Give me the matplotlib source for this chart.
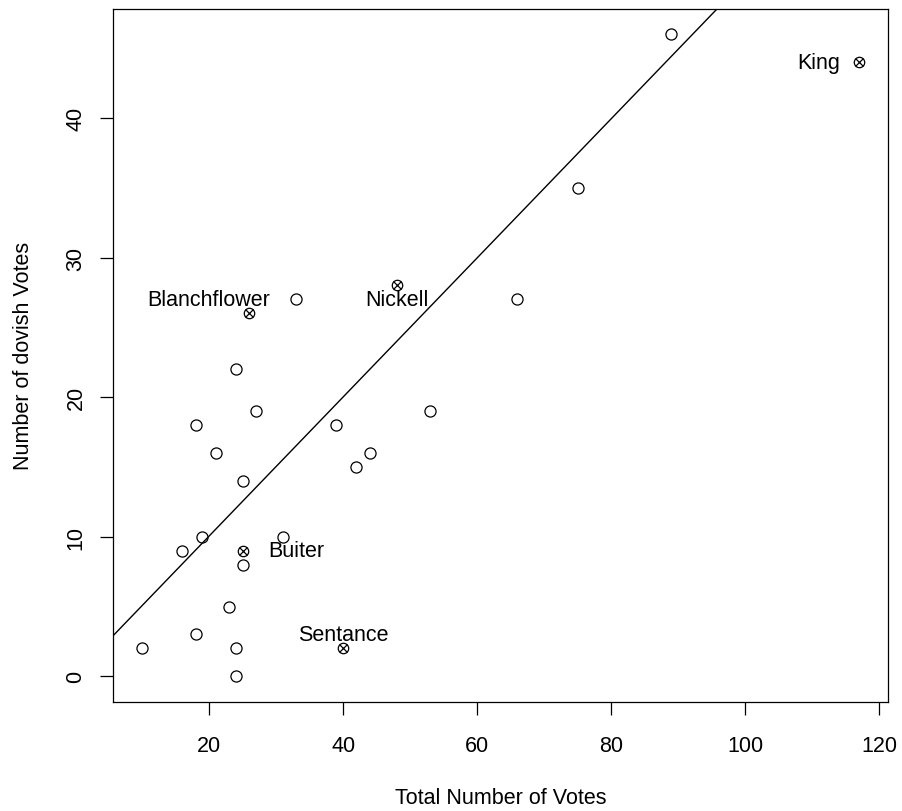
import matplotlib
matplotlib.use("Agg")
import matplotlib.pyplot as plt
import numpy as np

plt.rcParams['font.family'] = ['Liberation Sans', 'DejaVu Sans']

# votes per member: total votes and dovish votes
total_votes = [10, 16, 18, 18, 19, 21, 23, 24, 24, 24, 25, 25, 27, 31, 33,
               39, 42, 44, 53, 66, 75, 89]
dovish_votes = [2, 9, 3, 18, 10, 16, 5, 2, 0, 22, 14, 8, 19, 10, 27,
                18, 15, 16, 19, 27, 35, 46]

# named members (drawn with crossed circles)
names = ['Blanchflower', 'Nickell', 'Buiter', 'Sentance', 'King']
named_total = [26, 48, 25, 40, 117]
named_dovish = [26, 28, 9, 2, 44]
label_x = [20, 48, 33, 40, 111]
label_y = [27, 27, 9, 3, 44]

# fitted line
intercept = 0.09
slope = 0.498

fig = plt.figure(figsize=(9.02, 8.12), dpi=100)
ax = fig.add_axes([0.1258, 0.1342, 0.8582, 0.8541])

ax.plot(total_votes, dovish_votes, linestyle='none', marker='o', markersize=8,
        markerfacecolor='none', markeredgecolor='black', markeredgewidth=0.9)
ax.plot(named_total, named_dovish, linestyle='none', marker='o', markersize=7.5,
        markerfacecolor='none', markeredgecolor='black', markeredgewidth=0.9)
ax.plot(named_total, named_dovish, linestyle='none', marker='x', markersize=5.6,
        markeredgecolor='black', markeredgewidth=0.9)

for nm, lx, ly in zip(names, label_x, label_y):
    ax.text(lx, ly, nm, ha='center', va='center', fontsize=15.5)

ax.axline((0, intercept), slope=slope, color='black', linewidth=1.0)

all_x = total_votes + named_total
all_y = dovish_votes + named_dovish
xr = max(all_x) - min(all_x)
yr = max(all_y) - min(all_y)
ax.set_xlim(min(all_x) - 0.04 * xr, max(all_x) + 0.04 * xr)
ax.set_ylim(min(all_y) - 0.04 * yr, max(all_y) + 0.04 * yr)

ax.set_xticks([20, 40, 60, 80, 100, 120])
ax.set_yticks([0, 10, 20, 30, 40])
ax.tick_params(axis='both', direction='out', length=9.4, width=0.9,
               labelsize=15.5)
ax.tick_params(axis='x', pad=14)
ax.tick_params(axis='y', pad=10)
plt.setp(ax.get_yticklabels(), rotation=90, va='center')

ax.set_xlabel('Total Number of Votes', fontsize=15.5)
ax.set_ylabel('Number of dovish Votes', fontsize=15.5)
ax.xaxis.set_label_coords(0.5, -0.137)
ax.xaxis.label.set_va('center')
ax.yaxis.set_label_coords(-0.116, 0.5)
ax.yaxis.label.set_va('center')

for sp in ax.spines.values():
    sp.set_linewidth(0.9)

fig.savefig('out.png', dpi=100)
